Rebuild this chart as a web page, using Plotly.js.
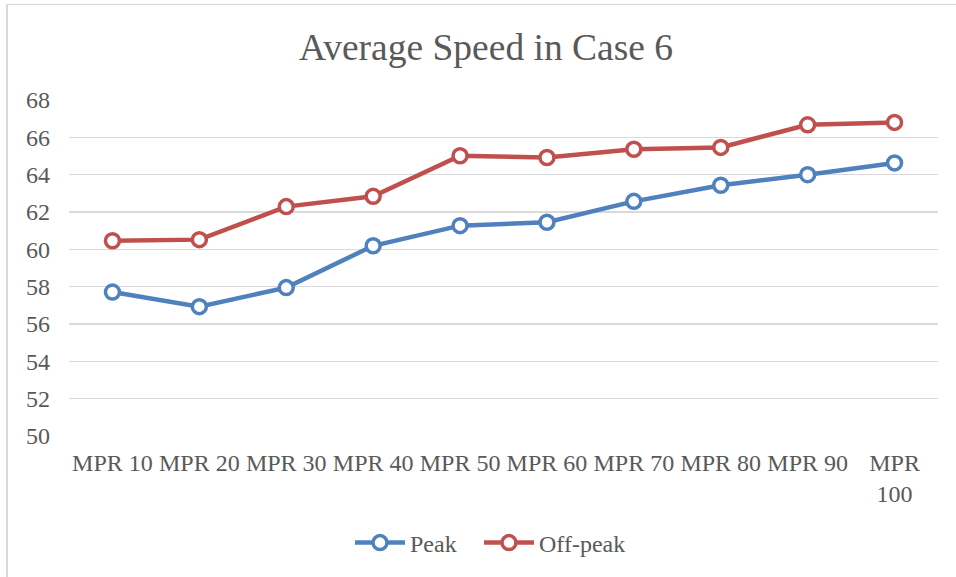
<!DOCTYPE html>
<html>
<head>
<meta charset="utf-8">
<script src="https://cdn.plot.ly/plotly-3.0.1.min.js"></script>
<style>
  html, body { margin: 0; padding: 0; background: #fff; }
  #chart { width: 956px; height: 577px; position: relative; }
  #frame { position: absolute; left: 6px; top: 4px; width: 960px; height: 580px;
           border-left: 2px solid #d9d9d9; border-top: 1px solid #d9d9d9; pointer-events: none; box-sizing: border-box; }
</style>
</head>
<body>
<div id="chart"></div>
<div id="frame"></div>
<script>
const categories = ['MPR 10','MPR 20','MPR 30','MPR 40','MPR 50','MPR 60','MPR 70','MPR 80','MPR 90','MPR 100'];
const tickLabels = ['MPR 10','MPR 20','MPR 30','MPR 40','MPR 50','MPR 60','MPR 70','MPR 80','MPR 90','MPR<br>100'];
const peak    = [57.71, 56.93, 57.95, 60.19, 61.27, 61.45, 62.57, 63.43, 64.00, 64.63];
const offPeak = [60.46, 60.52, 62.29, 62.84, 65.01, 64.92, 65.36, 65.46, 66.67, 66.80];
const yTicks = [50,52,54,56,58,60,62,64,66,68];

const textColor = '#595959';
const fontFam = '"Liberation Serif", "Times New Roman", serif';

function series(name, y, color, legendId) {
  return {
    type: 'scatter', mode: 'lines+markers', name: name, legend: legendId,
    x: categories, y: y,
    line: { color: color, width: 4.5 },
    marker: { symbol: 'circle', size: 14, color: '#ffffff', line: { color: color, width: 3.5 } }
  };
}

const data = [series('Peak', peak, '#4F81BD', 'legend'), series('Off-peak', offPeak, '#C0504D', 'legend2')];

function legendAt(px) {
  return { orientation: 'h', x: (px - 69) / 869, xanchor: 'left', y: (436 - 543) / 336, yanchor: 'middle',
           itemwidth: 50, font: { family: fontFam, size: 24, color: textColor }, bgcolor: 'rgba(0,0,0,0)' };
}

const layout = {
  width: 956, height: 577,
  margin: { l: 69, r: 18, t: 100, b: 141, autoexpand: false },
  paper_bgcolor: '#ffffff', plot_bgcolor: '#ffffff',
  font: { family: fontFam, color: textColor, size: 24 },
  title: { text: 'Average Speed in Case 6', font: { family: fontFam, size: 37.5, color: textColor },
           x: 486/956, xanchor: 'center', xref: 'container', y: 1 - 47/577, yanchor: 'middle', yref: 'container' },
  xaxis: {
    type: 'category', categoryorder: 'array', categoryarray: categories,
    tickvals: categories, ticktext: tickLabels,
    range: [-0.5, categories.length - 0.5],
    showgrid: false, zeroline: false, showline: false, ticks: '',
    tickfont: { family: fontFam, size: 24, color: textColor },
    ticklabelstandoff: 10, tickangle: 0, automargin: false
  },
  yaxis: {
    range: [50, 68], tickvals: yTicks, ticktext: yTicks.map(String),
    showgrid: true, gridcolor: '#d9d9d9', gridwidth: 1.5,
    zeroline: false, showline: false, ticks: '',
    tickfont: { family: fontFam, size: 24, color: textColor },
    ticklabelstandoff: 18, automargin: false
  },
  showlegend: true,
  legend: legendAt(350),
  legend2: legendAt(479)
};

Plotly.newPlot('chart', data, layout, { displayModeBar: false, staticPlot: true });
</script>
</body>
</html>
